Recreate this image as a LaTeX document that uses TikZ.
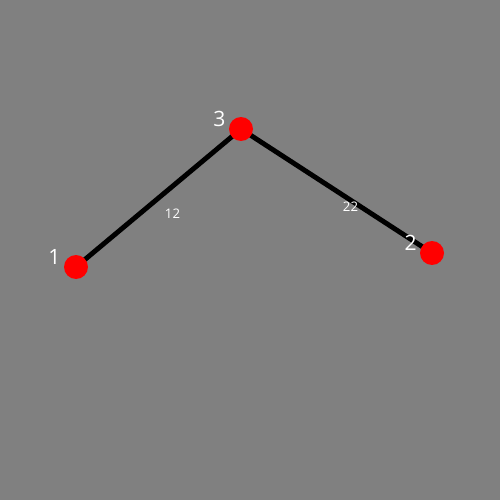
\documentclass[tikz,border=0pt]{standalone}
\usepackage{fontspec}
\setmainfont{Open Sans}
\usetikzlibrary{positioning}
\definecolor{bggray}{HTML}{808080}
\pgfdeclarelayer{bg}
\pgfdeclarelayer{edgelayer}
\pgfsetlayers{bg,edgelayer,main}
\tikzstyle{vertex} = [circle, fill=red, minimum size=0.48cm, inner sep=0pt]
\tikzstyle{vlabel} = [text=white, font=\fontsize{12pt}{14pt}\selectfont, label distance=0.12cm, shift={(8,10)}]
\tikzstyle{weight} = [text=white, font=\fontsize{7.5pt}{9pt}\selectfont]
\tikzstyle{edge} = [line width=2.8pt, draw=black]

\begin{document}
\begin{tikzpicture}[x=0.02cm, y=-0.02cm]

    \begin{pgfonlayer}{bg}
        \fill [bggray] (0,0) rectangle (500,500);
    \end{pgfonlayer}

    \node (v1) [vertex, label={[vlabel]160:1}] at (76,267) {};
    \node (v3) [vertex, label={[vlabel]160:3}] at (241,129) {};
    \node (v2) [vertex, label={[vlabel]160:2}] at (432,253) {};

    \begin{pgfonlayer}{edgelayer}
        \draw [edge] (v1.center) -- node [weight, shift={(14,16)}] {12} (v3.center);
        \draw [edge] (v3.center) -- node [weight, shift={(14,16)}] {22} (v2.center);
    \end{pgfonlayer}

\end{tikzpicture}
\end{document}
